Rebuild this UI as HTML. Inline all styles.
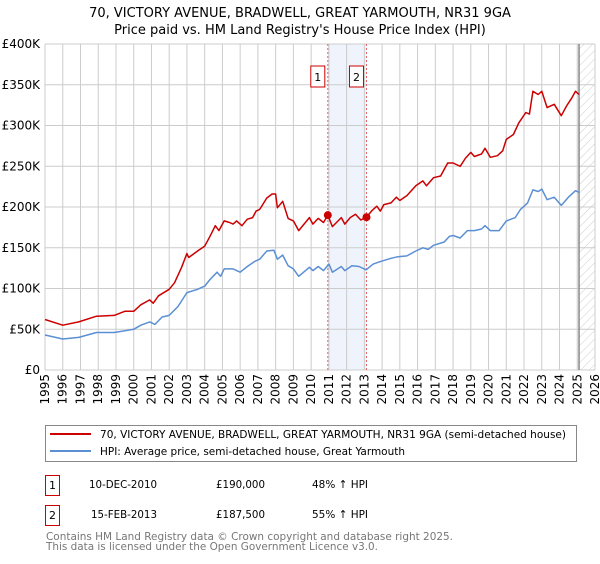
<!DOCTYPE html>
<html><head><meta charset="utf-8"><style>
body{margin:0;background:#fff;font-family:"DejaVu Sans","Liberation Sans",sans-serif;}
svg text{font-family:"DejaVu Sans","Liberation Sans",sans-serif;}
</style></head><body>
<svg id="chart" width="600" height="560" xmlns="http://www.w3.org/2000/svg">
<defs><pattern id="hatch" width="6" height="6" patternUnits="userSpaceOnUse" patternTransform="rotate(45)"><line x1="0" y1="0" x2="0" y2="6" stroke="#ccc" stroke-width="1"/></pattern></defs>
<text x="300" y="17" text-anchor="middle" font-size="13">70, VICTORY AVENUE, BRADWELL, GREAT YARMOUTH, NR31 9GA</text>
<text x="300" y="34" text-anchor="middle" font-size="13">Price paid vs. HM Land Registry's House Price Index (HPI)</text>
<g id="grid"></g>
<g id="marks"></g>
<g id="legend">
<rect x="45.5" y="425.5" width="531" height="36" fill="#fff" stroke="#888"/>
<line x1="50" y1="434" x2="91" y2="434" stroke="#cc0000" stroke-width="2"/>
<text x="100" y="438" font-size="11" textLength="466" lengthAdjust="spacingAndGlyphs">70, VICTORY AVENUE, BRADWELL, GREAT YARMOUTH, NR31 9GA (semi-detached house)</text>
<line x1="50" y1="451" x2="91" y2="451" stroke="#5b8fd4" stroke-width="2"/>
<text x="100" y="455" font-size="11" textLength="305" lengthAdjust="spacingAndGlyphs">HPI: Average price, semi-detached house, Great Yarmouth</text>
</g>
<g font-size="11">
<rect x="45.5" y="475.5" width="14" height="20" fill="#fff" stroke="#cc0000"/><text x="52.5" y="489" text-anchor="middle">1</text>
<text x="89" y="488" textLength="68" lengthAdjust="spacingAndGlyphs">10-DEC-2010</text><text x="216" y="488" textLength="49" lengthAdjust="spacingAndGlyphs">£190,000</text><text x="312" y="488" textLength="56" lengthAdjust="spacingAndGlyphs">48% ↑ HPI</text>
<rect x="45.5" y="505.5" width="14" height="20" fill="#fff" stroke="#cc0000"/><text x="52.5" y="519" text-anchor="middle">2</text>
<text x="91" y="518" textLength="66" lengthAdjust="spacingAndGlyphs">15-FEB-2013</text><text x="216" y="518" textLength="49" lengthAdjust="spacingAndGlyphs">£187,500</text><text x="312" y="518" textLength="56" lengthAdjust="spacingAndGlyphs">55% ↑ HPI</text>
</g>
<text x="46" y="540" font-size="10.5" fill="#777" textLength="407" lengthAdjust="spacingAndGlyphs">Contains HM Land Registry data © Crown copyright and database right 2025.</text>
<text x="46" y="550" font-size="10.5" fill="#777" textLength="332" lengthAdjust="spacingAndGlyphs">This data is licensed under the Open Government Licence v3.0.</text>
</svg>
<script>
const yTicks=[0,50,100,150,200,250,300,350,400];
const yTickLabels=["£0","£50K","£100K","£150K","£200K","£250K","£300K","£350K","£400K"];
const xYears=[1995,1996,1997,1998,1999,2000,2001,2002,2003,2004,2005,2006,2007,2008,2009,2010,2011,2012,2013,2014,2015,2016,2017,2018,2019,2020,2021,2022,2023,2024,2025,2026];
const redT=[1995.0,1996.0,1996.9,1997.9,1998.9,1999.5,2000.0,2000.4,2000.9,2001.1,2001.4,2002.0,2002.3,2002.7,2003.0,2003.1,2003.6,2004.0,2004.3,2004.6,2004.8,2005.1,2005.4,2005.6,2005.8,2006.1,2006.4,2006.7,2006.9,2007.1,2007.5,2007.8,2008.0,2008.1,2008.4,2008.7,2009.0,2009.3,2009.9,2010.1,2010.4,2010.7,2010.94,2011.2,2011.7,2011.9,2012.2,2012.5,2012.8,2013.12,2013.4,2013.7,2013.9,2014.1,2014.5,2014.8,2015.0,2015.4,2015.9,2016.3,2016.5,2016.9,2017.3,2017.7,2018.0,2018.4,2018.7,2019.0,2019.2,2019.6,2019.8,2020.1,2020.5,2020.8,2021.0,2021.4,2021.7,2022.1,2022.3,2022.5,2022.8,2023.0,2023.3,2023.7,2024.1,2024.4,2024.7,2024.9,2025.1];
const redV=[62,55,59,66,67,72,72,80,86,82,91,99,107,126,143,138,146,152,164,177,171,183,181,179,183,177,185,187,195,197,211,216,216,199,207,186,183,171,187,179,186,181,190,176,187,179,187,191,184,187.5,195,201,195,203,205,212,208,214,226,232,226,236,238,254,254,250,260,267,262,265,272,261,263,269,283,289,303,316,314,342,338,342,322,326,312,324,334,342,338];
const hpiT=[1995.0,1996.0,1996.9,1997.9,1998.9,2000.0,2000.4,2000.9,2001.2,2001.6,2002.0,2002.5,2003.0,2003.6,2004.0,2004.3,2004.7,2004.9,2005.1,2005.6,2006.0,2006.4,2006.8,2007.1,2007.5,2007.9,2008.1,2008.4,2008.7,2009.0,2009.3,2009.9,2010.1,2010.4,2010.7,2011.0,2011.2,2011.7,2011.9,2012.3,2012.7,2013.1,2013.5,2013.9,2014.5,2014.9,2015.4,2015.9,2016.3,2016.6,2016.9,2017.5,2017.8,2018.0,2018.4,2018.8,2019.2,2019.6,2019.8,2020.1,2020.6,2021.0,2021.5,2021.8,2022.2,2022.5,2022.8,2023.0,2023.3,2023.7,2024.1,2024.5,2024.9,2025.1];
const hpiV=[43,38,40,46,46,50,55,59,56,65,67,78,95,99,103,111,120,115,124,124,120,127,133,136,146,147,136,141,128,124,115,126,122,127,122,130,120,127,122,128,127,123,130,133,137,139,140,146,150,148,153,157,164,165,162,171,171,173,177,171,171,183,187,197,205,221,219,222,209,212,202,212,220,218];
const saleT=[2010.94,2013.12];
const saleV=[190,187.5];
const saleLabels=["1","2"];
const dataEnd=2025.1;

const X0=45,X1=595,Y0=370,Y1=44;
const xs=t=>X0+(t-1995)/31*(X1-X0);
const ys=v=>Y0-v/400*(Y0-Y1);
const NS="http://www.w3.org/2000/svg";
function mk(tag,attrs,parent){const e=document.createElementNS(NS,tag);for(const k in attrs)e.setAttribute(k,attrs[k]);parent.appendChild(e);return e;}
const grid=document.getElementById('grid'),marks=document.getElementById('marks');
let band=mk('rect',{x:xs(saleT[0]),y:Y1,width:xs(saleT[1])-xs(saleT[0]),height:Y0-Y1,fill:'#eef3fc'},grid);


xYears.forEach(y=>{
  const l=mk('line',{x1:xs(y),x2:xs(y),y1:Y1,y2:Y0,stroke:'#ccc','stroke-width':1},grid);
  
  
  const t=mk('text',{x:0,y:0,'font-size':12,'text-anchor':'end',transform:`translate(${xs(y)+4},${Y0+4}) rotate(-90)`},grid);
  t.textContent=y;
  
  
});
yTicks.forEach((v,i)=>{
  const l=mk('line',{x1:X0,x2:X1,y1:ys(v),y2:ys(v),stroke:'#ccc','stroke-width':1},grid);
  
  
  const t=mk('text',{x:40,y:ys(v)+4,'font-size':12,'text-anchor':'end'},grid);
  t.textContent=yTickLabels[i];
  
  
});
let h=mk('rect',{x:xs(dataEnd),y:Y1,width:X1-xs(dataEnd),height:Y0-Y1,fill:'url(#hatch)'},grid);


let dl=mk('line',{x1:xs(dataEnd),x2:xs(dataEnd),y1:Y1,y2:Y0,stroke:'#888','stroke-width':1.5},grid);


saleT.forEach((t,i)=>{
  const l=mk('line',{x1:xs(t),x2:xs(t),y1:Y1,y2:Y0,stroke:'#e06666','stroke-width':1,'stroke-dasharray':'2,2'},grid);
  
  
  const r=mk('rect',{x:xs(t)-17,y:66,width:14,height:21,fill:'#fff',stroke:'#cc0000'},grid);
  
  
  const tx=mk('text',{x:xs(t)-10,y:81,'font-size':11,'text-anchor':'middle'},grid);
  tx.textContent=saleLabels[i];
  
  
});
function line(T,V,color,name){
  const p=mk('polyline',{points:T.map((t,i)=>xs(t).toFixed(1)+','+ys(V[i]).toFixed(1)).join(' '),fill:'none',stroke:color,'stroke-width':1.5,'stroke-linejoin':'round'},marks);
  
  
}
line(hpiT,hpiV,'#5b8fd4','hpi-line');
line(redT,redV,'#cc0000','property-price-line');
saleT.forEach((t,i)=>{
  const c=mk('circle',{cx:xs(t),cy:ys(saleV[i]),r:4,fill:'#cc0000'},marks);
  
  
});
</script>
</body></html>
